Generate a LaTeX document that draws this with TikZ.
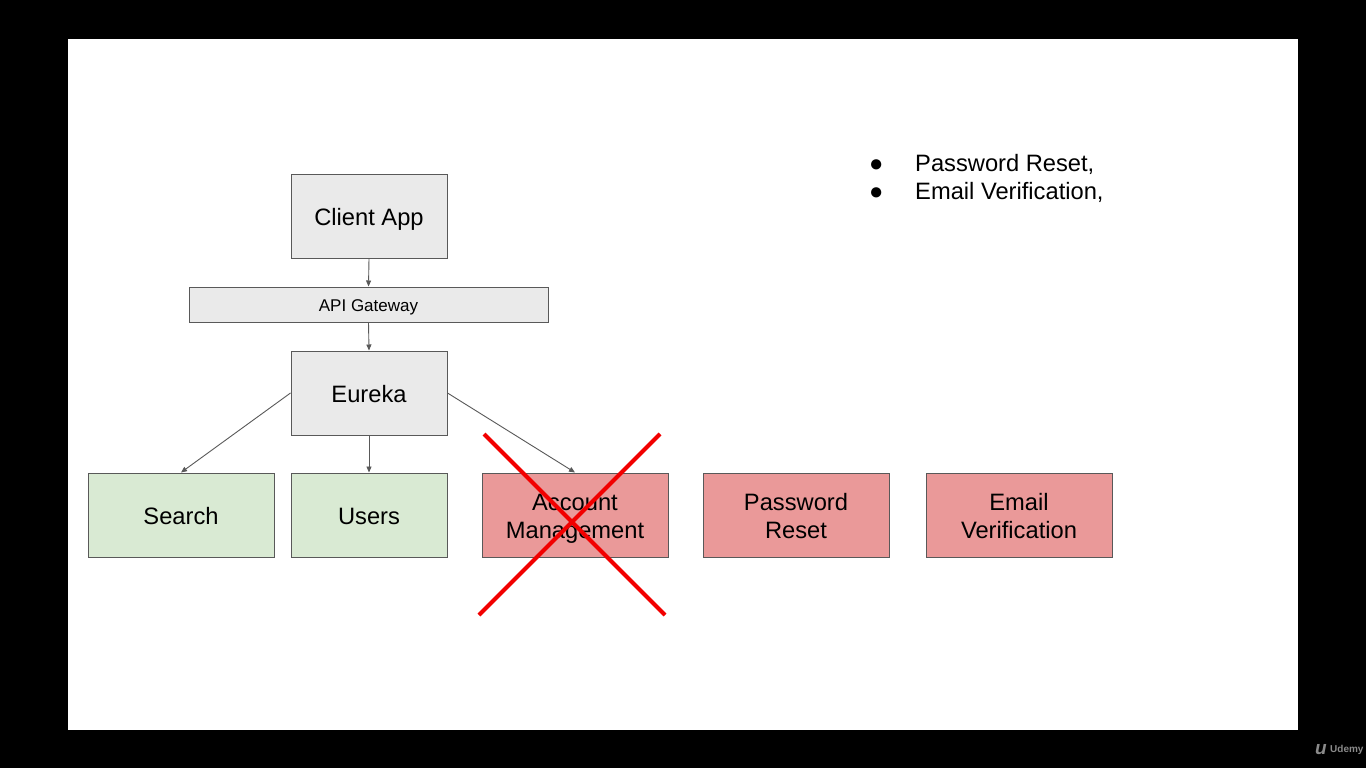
\documentclass[tikz,border=0pt]{standalone}
\usepackage{fontspec}
\setmainfont{Liberation Sans}
\usetikzlibrary{arrows.meta}
\definecolor{boxgray}{HTML}{EAEAEA}
\definecolor{boxgreen}{HTML}{D9EAD3}
\definecolor{boxred}{HTML}{EA9999}
\definecolor{edgegray}{HTML}{595959}
\definecolor{crossred}{HTML}{F20000}
\definecolor{logogray}{HTML}{8A8A8A}
\newcommand{\boxtext}[2][7pt]{\raisebox{0pt}[\dimexpr\height+#1\relax][\depth]{\begin{tabular}{@{}c@{}}#2\end{tabular}}}
\tikzset{
  box/.style={draw=edgegray, line width=1pt, inner sep=0pt,
    minimum width=156pt, minimum height=84pt,
    font=\fontsize{23.7}{28}\selectfont},
  widebox/.style={box, minimum width=186pt},
  gray box/.style={fill=boxgray},
  green box/.style={fill=boxgreen},
  red box/.style={fill=boxred},
  conn/.style={draw=edgegray, line width=0.9pt, -{Triangle[length=6pt,width=5pt]}},
  crossline/.style={draw=crossred, line width=4pt},
  bullettext/.style={anchor=base west, inner sep=0pt, font=\fontsize{23.7}{28}\selectfont}
}
\begin{document}
\begin{tikzpicture}[x=1pt,y=-1pt]
\useasboundingbox (0,0) rectangle (1366,768);
\fill[black] (0,0) rectangle (1366,768);
\fill[white] (68,39) rectangle (1298,730);

\node[box, gray box] (client) at (369,216) {\boxtext{Client App}};
\node[box, gray box, minimum width=359pt, minimum height=35pt,
      font=\fontsize{17}{20}\selectfont] (api) at (368.5,304.5) {\boxtext[5pt]{API Gateway}};
\node[box, gray box] (eureka) at (369,393) {\boxtext{Eureka}};
\node[widebox, green box] (search) at (181,515) {\boxtext{Search}};
\node[box, green box] (users) at (369,515) {\boxtext{Users}};
\node[widebox, red box] (account) at (575,515) {\boxtext[8pt]{Account\\Management}};
\node[widebox, red box] (password) at (796,515) {\boxtext[8pt]{Password\\Reset}};
\node[widebox, red box] (email) at (1019,515) {\boxtext[8pt]{Email\\Verification}};

\draw[conn] (client.south) -- (api.north);
\draw[conn] (api.south) -- (eureka.north);
\draw[conn] (eureka.west) -- (search.north);
\draw[conn] (eureka.south) -- (users.north);
\draw[conn] (eureka.east) -- (account.north);

\coordinate (xa) at (484,434);
\coordinate (xb) at (665,615);
\coordinate (xc) at (660,434);
\coordinate (xd) at (479,615);
\draw[crossline] (xa) -- (xb);
\draw[crossline] (xc) -- (xd);

\node[bullettext] (b1) at (869,171.5) {●};
\node[bullettext] (t1) at (915,171.5) {Password Reset,};
\node[bullettext] (b2) at (869,199.5) {●};
\node[bullettext] (t2) at (915,199.5) {Email Verification,};

\node[anchor=base west, inner sep=0pt, text=logogray,
      font=\fontsize{10}{12}\selectfont\bfseries] (udemy) at (1330,752) {Udemy};
\node[anchor=base east, inner sep=0pt, text=logogray,
      font=\fontsize{19}{20}\selectfont\itshape\bfseries] (ulogo) at (1327,754) {u};
\end{tikzpicture}
\end{document}
